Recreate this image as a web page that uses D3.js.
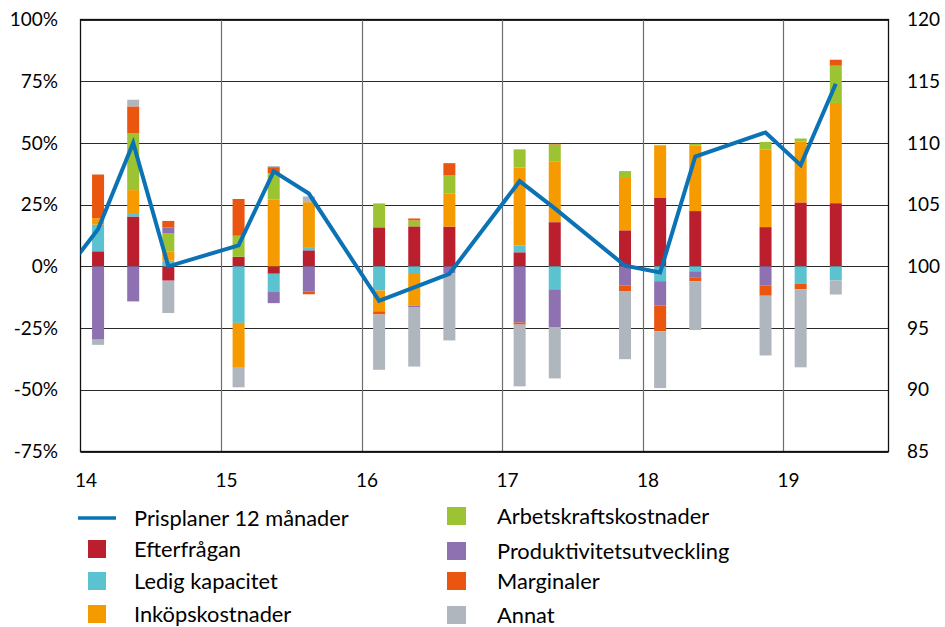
<!DOCTYPE html>
<html>
<head>
<meta charset="utf-8">
<script src="https://cdn.jsdelivr.net/npm/d3@7"></script>
<style>
  html, body { margin: 0; padding: 0; background: #fff; }
  svg text { font-family: Lato, "Open Sans", sans-serif; fill: #000; }
</style>
</head>
<body>
<svg id="chart" width="945" height="627"></svg>
<script>
// Survey periods (year + quarter) that carry a bar
const periods = ["2014Q1","2014Q2","2014Q3","2015Q1","2015Q2","2015Q3","2016Q1","2016Q2","2016Q3",
                 "2017Q1","2017Q2","2017Q4","2018Q1","2018Q2","2018Q4","2019Q1","2019Q2"];

// Net contribution per factor, percent
const efterfragan    = [6.1, 20.2, -5.8, 3.9, -3.0, 6.5, 15.8, 16.2, 16.1, 5.7, 17.9, 14.6, 27.7, 22.4, 15.9, 25.9, 25.6];
const ledigKapacitet = [10.8, 1.4, 2.3, -22.9, -7.4, 1.3, -9.8, -3.1, 0, 2.8, -9.3, 0, -6.0, -2.0, 0, -7.0, -5.7];
const inkopskostnader = [2.6, 9.3, 3.8, -18.2, 27.0, 18.2, -8.4, -12.8, 13.5, 31.5, 24.7, 21.2, 21.2, 26.5, 31.5, 24.7, 40.6];
const arbetskraftskostnader = [0, 23.1, 7.2, 8.5, 10.8, 0, 9.7, 2.4, 7.2, 7.4, 6.8, 2.8, 0.3, 0.8, 3.0, 1.2, 15.1];
const produktivitet  = [-29.7, -14.2, 2.4, 0, -4.5, -10.1, 0, -0.8, -2.8, -22.8, -15.5, -7.8, -9.8, -2.4, -7.7, 0, 0];
const marginaler     = [17.7, 10.8, 2.7, 14.9, 2.4, -1.2, -1.3, 0.8, 5.0, -0.8, 0.3, -2.4, -10.5, -1.6, -4.2, -2.3, 2.4];
const annat          = [-2.1, 2.7, -13.1, -7.9, 0.4, 2.3, -22.4, -23.9, -27.2, -25.0, -20.6, -27.4, -23.0, -19.8, -24.2, -31.6, -5.7];

// Price plans for the coming 12 months, index (right axis)
const linePeriods = ["2013Q4","2014Q1","2014Q2","2014Q3","2015Q1","2015Q2","2015Q3","2016Q1","2016Q2","2016Q3",
                     "2017Q1","2017Q2","2017Q4","2018Q1","2018Q2","2018Q4","2019Q1","2019Q2"];
const prisplaner = [99.3, 103.0, 110.0, 100.0, 101.7, 107.7, 105.9, 97.2, 98.3, 99.4,
                    106.9, 104.7, 100.05, 99.5, 108.9, 110.85, 108.2, 114.8];

const leftTicks  = [100, 75, 50, 25, 0, -25, -50, -75];
const rightTicks = [120, 115, 110, 105, 100, 95, 90, 85];
const yearTicks  = [2014, 2015, 2016, 2017, 2018, 2019];

const seriesNames = ["Efterfrågan", "Ledig kapacitet", "Inköpskostnader", "Arbetskraftskostnader",
                     "Produktivitetsutveckling", "Marginaler", "Annat"];
const seriesValues = [efterfragan, ledigKapacitet, inkopskostnader, arbetskraftskostnader,
                      produktivitet, marginaler, annat];
const seriesColors = ["#BB1E2D", "#5BC3D0", "#F59B00", "#9CC432", "#8E71B0", "#EA550F", "#B0B6BE"];
const lineColor = "#0B72B5";

const toTime = p => +p.slice(0, 4) + (+p.slice(5) - 0.5) / 4;

const svg = d3.select("#chart");
const plot = { left: 80.5, right: 888.5, top: 19.5, bottom: 451.5 };

const x = d3.scaleLinear().domain([2014, 2019.75]).range([plot.left, plot.right]);
const y = d3.scaleLinear().domain([-75, 100]).range([plot.bottom, plot.top]);
const y2 = d3.scaleLinear().domain([85, 120]).range([plot.bottom, plot.top]);

// Horizontal grid
svg.append("g").selectAll("line").data(leftTicks).join("line")
  .attr("x1", plot.left).attr("x2", plot.right)
  .attr("y1", d => Math.round(y(d)) + 0.5).attr("y2", d => Math.round(y(d)) + 0.5)
  .attr("stroke", "#2a2a2a").attr("stroke-width", 1.2);

// Vertical year lines
svg.append("g").selectAll("line").data(yearTicks.slice(1)).join("line")
  .attr("x1", d => Math.round(x(d)) + 0.5).attr("x2", d => Math.round(x(d)) + 0.5)
  .attr("y1", plot.top).attr("y2", plot.bottom)
  .attr("stroke", "#6e6e6e").attr("stroke-width", 1.2);

// Stacked bars
const rows = periods.map((p, i) => {
  const r = { period: p };
  seriesNames.forEach((n, k) => r[n] = seriesValues[k][i]);
  return r;
});
const stacked = d3.stack().keys(seriesNames).offset(d3.stackOffsetDiverging)(rows);
const barW = 12;

svg.append("g").selectAll("g").data(stacked).join("g")
  .attr("fill", (d, i) => seriesColors[i])
  .selectAll("rect").data(d => d).join("rect")
  .attr("x", d => x(toTime(d.data.period)) - barW / 2)
  .attr("width", barW)
  .attr("y", d => y(Math.max(d[0], d[1])))
  .attr("height", d => Math.abs(y(d[0]) - y(d[1])));

// Frame: left, right and bottom borders
svg.append("rect")
  .attr("x", plot.left).attr("y", plot.top)
  .attr("width", plot.right - plot.left).attr("height", plot.bottom - plot.top)
  .attr("fill", "none").attr("stroke", "#111").attr("stroke-width", 1.3);

// Price plan line, clipped to the plot
svg.append("clipPath").attr("id", "clip").append("rect")
  .attr("x", plot.left).attr("y", 0).attr("width", plot.right - plot.left).attr("height", 627);
const line = d3.line().x(d => x(toTime(d[0]))).y(d => y2(d[1]));
svg.append("path")
  .attr("clip-path", "url(#clip)")
  .attr("d", line(linePeriods.map((p, i) => [p, prisplaner[i]])))
  .attr("fill", "none").attr("stroke", lineColor).attr("stroke-width", 4)
  .attr("stroke-linejoin", "miter");

// Axes text
const fs = 19;
svg.append("g").selectAll("text").data(leftTicks).join("text")
  .attr("x", 58).attr("y", d => y(d)).attr("dy", "0.35em")
  .attr("text-anchor", "end").attr("font-size", fs)
  .text(d => d + "%");
svg.append("g").selectAll("text").data(rightTicks).join("text")
  .attr("x", 907).attr("y", d => y2(d)).attr("dy", "0.35em")
  .attr("text-anchor", "start").attr("font-size", fs)
  .text(d => d);
svg.append("g").selectAll("text").data(yearTicks).join("text")
  .attr("x", d => x(d) + 5.5).attr("y", 480).attr("dy", "0.35em")
  .attr("text-anchor", "middle").attr("font-size", fs)
  .text(d => String(d).slice(2));

// Legend
const legend = svg.append("g").attr("font-size", 21.8);
const col1 = [{ name: "Prisplaner 12 månader", line: true, y: 518 },
              { idx: 0, y: 549 }, { idx: 1, y: 581 }, { idx: 2, y: 614 }];
const col2 = [{ idx: 3, y: 516 }, { idx: 4, y: 551 }, { idx: 5, y: 581 }, { idx: 6, y: 615 }];

col1.forEach(it => {
  if (it.line) {
    legend.append("line").attr("x1", 78).attr("x2", 116).attr("y1", it.y).attr("y2", it.y)
      .attr("stroke", lineColor).attr("stroke-width", 3.5);
    legend.append("text").attr("x", 134).attr("y", it.y).attr("dy", "0.35em").text(it.name);
  } else {
    legend.append("rect").attr("x", 88).attr("y", it.y - 9).attr("width", 18).attr("height", 18)
      .attr("fill", seriesColors[it.idx]);
    legend.append("text").attr("x", 134).attr("y", it.y).attr("dy", "0.35em").text(seriesNames[it.idx]);
  }
});
col2.forEach(it => {
  legend.append("rect").attr("x", 447).attr("y", it.y - 9).attr("width", 19).attr("height", 18)
    .attr("fill", seriesColors[it.idx]);
  legend.append("text").attr("x", 497).attr("y", it.y).attr("dy", "0.35em").text(seriesNames[it.idx]);
});
</script>
</body>
</html>
